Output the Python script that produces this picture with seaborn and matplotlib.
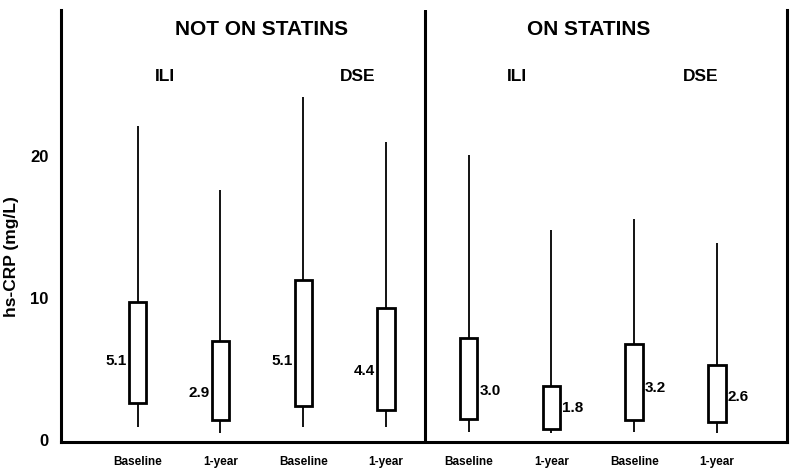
import numpy as np
import pandas as pd
import matplotlib
matplotlib.use("Agg")
import matplotlib.pyplot as plt
import seaborn as sns

# five-number summaries (min, q1, median, q3, max)
groups = ["NOT ON STATINS", "ON STATINS"]
arms = ["ILI", "DSE"]
timepoints = ["Baseline", "1-year"]

box_min = [0.9, 0.5, 0.9, 0.9, 0.6, 0.5, 0.6, 0.5]
box_q1 = [2.6, 1.4, 2.4, 2.1, 1.5, 0.8, 1.4, 1.3]
box_median = [5.1, 2.9, 5.1, 4.4, 3.0, 1.8, 3.2, 2.6]
box_q3 = [9.7, 7.0, 11.3, 9.3, 7.2, 3.8, 6.8, 5.3]
box_max = [22.1, 17.6, 24.2, 21.0, 20.1, 14.8, 15.6, 13.9]

# long table: each box gets its five summary values, so the percentiles land on them
rows = []
keys = []
for g in groups:
    for a in arms:
        for t in timepoints:
            keys.append(f"{g}|{a}|{t}")
for i, k in enumerate(keys):
    for v in (box_min[i], box_q1[i], box_median[i], box_q3[i], box_max[i]):
        rows.append({"box": k, "value": v})
df = pd.DataFrame(rows)

sns.set_style("white")
plt.rcParams["font.family"] = ["Liberation Sans", "DejaVu Sans"]
plt.rcParams["font.weight"] = "bold"
plt.rcParams["text.color"] = "black"
plt.rcParams["axes.labelcolor"] = "black"
plt.rcParams["xtick.color"] = "black"
plt.rcParams["ytick.color"] = "black"

fig = plt.figure(figsize=(8, 4.76), dpi=100)
ax = fig.add_axes([0.076, 0.071, 0.908, 0.908])

sns.boxplot(data=df, x="box", y="value", order=keys, whis=(0, 100),
            width=0.21, color="white", saturation=1, linecolor="black",
            showfliers=False, ax=ax,
            boxprops=dict(linewidth=2.0),
            whiskerprops=dict(linewidth=1.3),
            capprops=dict(linewidth=0),
            medianprops=dict(linewidth=0))

# median labels, left of the box in the first panel, right in the second
for i, m in enumerate(box_median):
    if i < 4:
        ax.text(i - 0.13, m + 0.45, f"{m:.1f}", ha="right", va="center",
                fontsize=11, fontweight="bold")
    else:
        ax.text(i + 0.13, m + 0.45, f"{m:.1f}", ha="left", va="center",
                fontsize=11, fontweight="bold")

# panel headings
ax.text(1.5, 28.9, groups[0], ha="center", va="center", fontsize=15, fontweight="bold")
ax.text(5.45, 28.9, groups[1], ha="center", va="center", fontsize=15, fontweight="bold")
for x, a in zip([0.33, 2.66, 4.58, 6.8], arms * 2):
    ax.text(x, 25.6, a, ha="center", va="center", fontsize=12.5, fontweight="bold")

ax.axvline(3.47, color="black", linewidth=2.2)

ax.set_xlim(-0.93, 7.85)
ax.set_ylim(-0.14, 30.3)
ax.set_xticks(range(8))
ax.set_xticklabels(timepoints * 4, fontsize=8.5, fontweight="bold")
ax.set_yticks([0, 10, 20])
ax.set_yticklabels(["0", "10", "20"], fontsize=12, fontweight="bold")
ax.tick_params(axis="x", length=0, pad=10)
ax.tick_params(axis="y", length=0, pad=9)
ax.set_xlabel("")
ax.set_ylabel("hs-CRP (mg/L)", fontsize=12.5, fontweight="bold")
ax.yaxis.set_label_coords(-0.058, 0.43)

for side in ["left", "bottom", "right"]:
    ax.spines[side].set_visible(True)
    ax.spines[side].set_linewidth(2.2)
    ax.spines[side].set_color("black")
ax.spines["top"].set_visible(False)

fig.savefig("out.png", dpi=100)
